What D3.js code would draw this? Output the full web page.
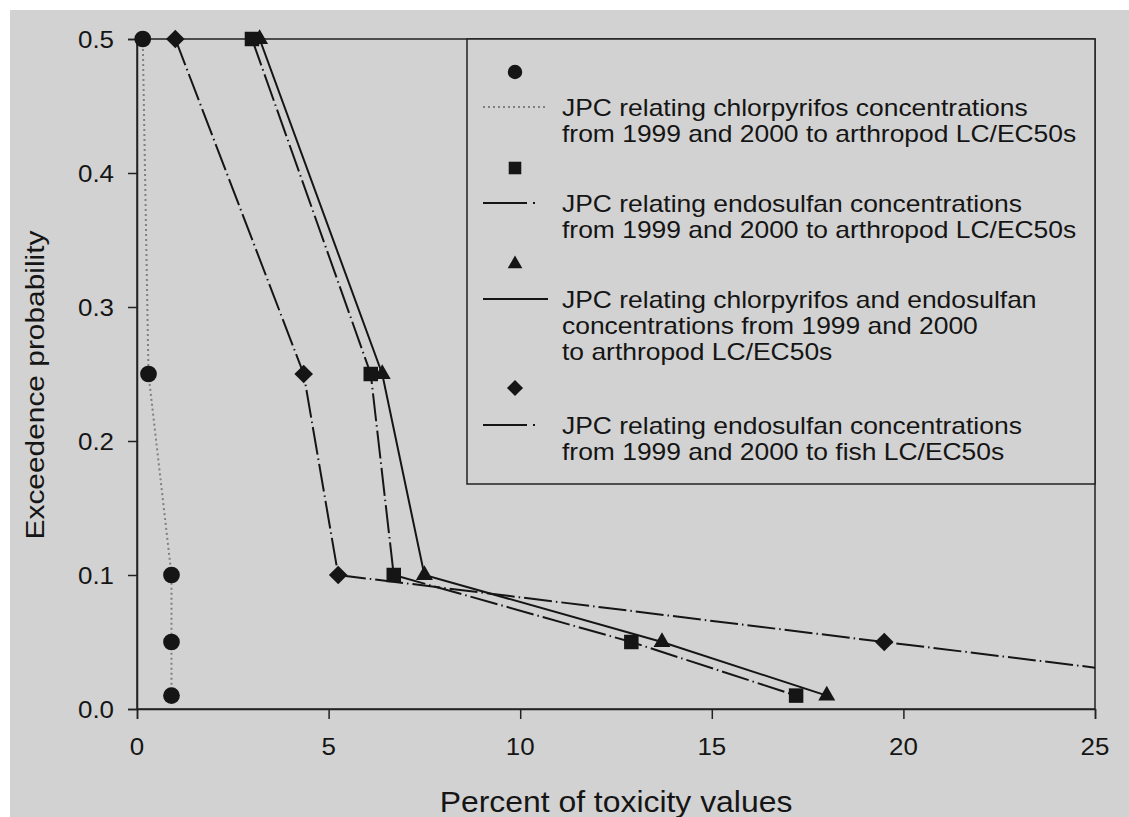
<!DOCTYPE html>
<html><head><meta charset="utf-8">
<script src="https://cdn.jsdelivr.net/npm/d3@7/dist/d3.min.js"></script>
<style>html,body{margin:0;padding:0;background:#fff;}svg{display:block;}</style>
</head><body>
<script>
// ---- data ----
const xTicks = [0, 5, 10, 15, 20, 25];
const yTicks = [0.0, 0.1, 0.2, 0.3, 0.4, 0.5];
const chlorArthX = [0.15, 0.3, 0.9, 0.9, 0.9];
const chlorArthY = [0.5, 0.25, 0.1, 0.05, 0.01];
const endoArthX = [3.0, 6.1, 6.7, 12.9, 17.2];
const endoArthY = [0.5, 0.25, 0.1, 0.05, 0.01];
const bothArthX = [3.2, 6.4, 7.5, 13.7, 18.0];
const bothArthY = [0.5, 0.25, 0.1, 0.05, 0.01];
const endoFishX = [1.0, 4.35, 5.25, 19.5, 31.0];
const endoFishY = [0.5, 0.25, 0.1, 0.05, 0.01];
const legendLabels = [
  ["JPC relating chlorpyrifos concentrations", "from 1999 and 2000 to arthropod LC/EC50s"],
  ["JPC relating endosulfan concentrations", "from 1999 and 2000 to arthropod LC/EC50s"],
  ["JPC relating chlorpyrifos and endosulfan", "concentrations from 1999 and 2000", "to arthropod LC/EC50s"],
  ["JPC relating endosulfan concentrations", "from 1999 and 2000 to fish LC/EC50s"]
];
const xTitle = "Percent of toxicity values";
const yTitle = "Exceedence probability";

const W = 1129, H = 817;
const FONT = "'Liberation Sans', Arial, sans-serif";
const INK = "#151515";
const svg = d3.select("body").append("svg").attr("width", W).attr("height", H);
svg.append("rect").attr("x", 10).attr("y", 10).attr("width", W - 10).attr("height", H - 10).attr("fill", "#d2d2d2");

const x = d3.scaleLinear().domain([0, 25]).range([137, 1095]);
const y = d3.scaleLinear().domain([0, 0.5]).range([709, 39]);

function stretchedText(g, tx, ty, str, size, sx, anchor, rot) {
  return g.append("text")
    .attr("transform", `translate(${tx},${ty})${rot ? ` rotate(${rot})` : ""} scale(${sx},1)`)
    .attr("text-anchor", anchor || "start")
    .attr("fill", INK).style("font-family", FONT).style("font-size", size + "px").text(str);
}

const series = [
  {xs: chlorArthX, ys: chlorArthY, sym: d3.symbolCircle, size: 220, dash: "2,3", color: "#808080", w: 2},
  {xs: endoArthX, ys: endoArthY, sym: d3.symbolSquare, size: 210, dash: "28,4,1.5,4", color: INK, w: 2},
  {xs: bothArthX, ys: bothArthY, sym: d3.symbolTriangle, size: 125, dash: null, color: INK, w: 2},
  {xs: endoFishX, ys: endoFishY, sym: d3.symbolDiamond2, size: 220, dash: "28,4,1.5,4", color: INK, w: 2}
];

svg.append("clipPath").attr("id", "clip").append("rect")
  .attr("x", x(0)).attr("y", y(0.5)).attr("width", x(25) - x(0)).attr("height", y(0) - y(0.5));

// frame
svg.append("rect").attr("x", x(0)).attr("y", y(0.5)).attr("width", x(25) - x(0)).attr("height", y(0) - y(0.5))
  .attr("fill", "none").attr("stroke", "#222").attr("stroke-width", 1.5);

// axes (lines + ticks from d3 axes, labels stretched to match original face)
const gx = svg.append("g").attr("transform", `translate(0,${y(0)})`)
  .call(d3.axisBottom(x).tickValues(xTicks).tickSize(10).tickFormat(""));
const gy = svg.append("g").attr("transform", `translate(${x(0)},0)`)
  .call(d3.axisLeft(y).tickValues(yTicks).tickSize(9).tickFormat(""));
[gx, gy].forEach(g => {
  g.select(".domain").attr("stroke", "#222").attr("stroke-width", 1.5);
  g.selectAll(".tick line").attr("stroke", "#222").attr("stroke-width", 1.5);
});
const fx = d3.format("d"), fy = d3.format(".1f");
xTicks.forEach(v => stretchedText(svg, x(v), 755, fx(v), 24, 1.08, "middle"));
yTicks.forEach(v => stretchedText(svg, 114, y(v) + 8.5, fy(v), 24, 1.08, "end"));

// lines
const line = d3.line().x(d => x(d[0])).y(d => y(d[1]));
series.forEach(s => {
  const pts = s.xs.map((v, i) => [v, s.ys[i]]);
  svg.append("path").datum(pts).attr("d", line).attr("fill", "none")
    .attr("stroke", s.color).attr("stroke-width", s.w)
    .attr("stroke-dasharray", s.dash).attr("clip-path", "url(#clip)");
});
// markers
series.forEach(s => {
  const pts = s.xs.map((v, i) => [v, s.ys[i]]).filter(p => p[0] <= 25);
  svg.selectAll(null).data(pts).enter().append("path")
    .attr("d", d3.symbol().type(s.sym).size(s.size))
    .attr("transform", d => `translate(${x(d[0])},${y(d[1])})`)
    .attr("fill", INK);
});

// legend
const lg = svg.append("g");
const LX = 467, LY = y(0.5), LR = x(25), LB = 484;
lg.append("rect").attr("x", LX).attr("y", LY).attr("width", LR - LX).attr("height", LB - LY)
  .attr("fill", "#d2d2d2").attr("stroke", "#222").attr("stroke-width", 1.5);
const rowMarkerY = [72, 168, 264, 388];
const rowTextY = [107, 203, 299, 425];
const lineH = 26;
series.forEach((s, i) => {
  lg.append("path").attr("d", d3.symbol().type(s.sym).size(s.size * 0.75))
    .attr("transform", `translate(515,${rowMarkerY[i]})`).attr("fill", INK);
  const ly = rowTextY[i];
  const ln = lg.append("line").attr("x1", 483).attr("x2", 548).attr("y1", ly).attr("y2", ly)
    .attr("stroke", s.color).attr("stroke-width", s.w);
  if (s.dash) ln.attr("stroke-dasharray", s.dash === "2,3" ? "2,3" : "44,6,2,20");
  legendLabels[i].forEach((t, j) => {
    stretchedText(lg, 562, ly + j * lineH + 8.5, t, 23, 1.15, "start");
  });
});

// titles
stretchedText(svg, (x(0) + x(25)) / 2, 812, xTitle, 29, 1.1, "middle");
stretchedText(svg, 44, 385, yTitle, 26, 1.15, "middle", -90);
</script>
</body></html>
